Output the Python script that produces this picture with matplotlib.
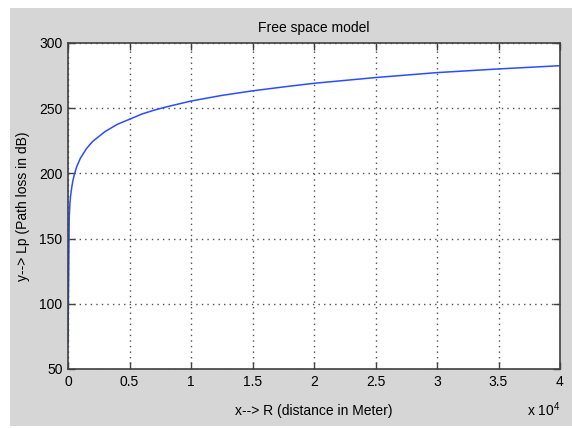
import matplotlib.pyplot as plt
from matplotlib.patches import Rectangle

# Free space model - path loss vs distance
distance = [1, 100, 150, 200, 300, 400, 500, 700, 1000, 1500, 2000, 3000, 4000,
            5000, 6000, 7000, 8000, 10000, 12500, 15000, 17500, 20000, 25000,
            30000, 35000, 40000]
pathLoss = [70, 166, 176, 182, 189, 194.5, 198.5, 205, 211.5, 219, 224.5, 232, 237.6,
            241.5, 245.5, 248.5, 251, 255.5, 259.8, 263.3, 266.3, 269.1, 273.5,
            277.3, 280.1, 282.6]

xTicks = [0, 5000, 10000, 15000, 20000, 25000, 30000, 35000, 40000]
xTickLabels = ['0', '0.5', '1', '1.5', '2', '2.5', '3', '3.5', '4']
yTicks = [50, 100, 150, 200, 250, 300]

plt.rcParams['font.family'] = ['Liberation Sans', 'DejaVu Sans']
plt.rcParams['mathtext.default'] = 'regular'
fs = 10

fig = plt.figure(figsize=(5.72, 4.28), dpi=100, facecolor='white')
# matlab style grey window background
fig.patches.append(Rectangle((10 / 572, 2 / 428), 1, 418 / 428, transform=fig.transFigure,
                             facecolor='#d6d6d6', edgecolor='none', zorder=-10))

ax = fig.add_axes([68 / 572, 59 / 428, 492 / 572, 326 / 428])
ax.plot(distance, pathLoss, color='#2a4dff', linewidth=1.1)

ax.set_xlim(0, 40000)
ax.set_ylim(50, 300)
ax.set_xticks(xTicks)
ax.set_xticklabels(xTickLabels)
ax.set_yticks(yTicks)

ax.grid(True, color='#505050', linestyle=(0, (1, 3)), linewidth=1)
ax.tick_params(direction='in', length=5, width=1, color='#404040', labelsize=fs,
               top=True, right=True, pad=4)
for sp in ax.spines.values():
    sp.set_color('#404040')
    sp.set_linewidth(1.2)

ax.set_title('Free space model', fontsize=fs, pad=8)
ax.set_xlabel('x--> R (distance in Meter)', fontsize=fs, labelpad=11)
ax.set_ylabel('y--> Lp (Path loss in dB)', fontsize=fs)
ax.yaxis.set_label_coords(-38 / 492, 0.5)
ax.text(1.0, -0.125, r'x 10$^{4}$', transform=ax.transAxes, ha='right', va='center',
        fontsize=fs)

fig.savefig('out.png', dpi=100, facecolor=fig.get_facecolor())
